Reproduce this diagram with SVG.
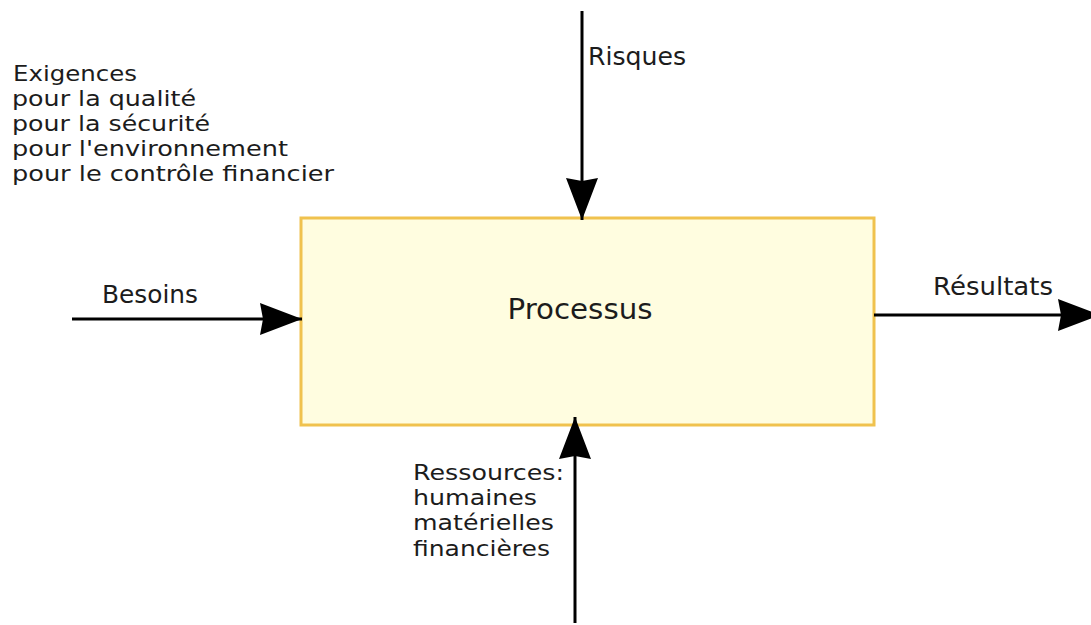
<svg xmlns="http://www.w3.org/2000/svg" width="1091" height="625" viewBox="0 0 1091 625">
<style>
text{font-family:"DejaVu Sans","Verdana",sans-serif;fill:#1c1c1c}
.lbl{font-size:24px}
.ml{font-size:21px}
.edge{stroke:#000;stroke-width:3;fill:none}
</style>
<defs>
<marker id="ah" markerUnits="userSpaceOnUse" markerWidth="44" markerHeight="34" refX="42" refY="16" orient="auto">
<path d="M0,0 L42,16 L0,32 L3,16 Z" fill="#000"/>
</marker>
</defs>
<rect width="1091" height="625" fill="#fff"/>
<g id="processus">
<rect x="301" y="218" width="573" height="207" fill="#fffde0" stroke="#f0c24e" stroke-width="3"/>
<text x="580" y="319" font-size="28" text-anchor="middle" textLength="145" lengthAdjust="spacingAndGlyphs">Processus</text>
</g>
<g id="connectors">
<line class="edge" x1="582" y1="11" x2="582" y2="220" marker-end="url(#ah)"/>
<line class="edge" x1="72" y1="319" x2="302" y2="319" marker-end="url(#ah)"/>
<line class="edge" x1="874" y1="315" x2="1100" y2="315" marker-end="url(#ah)"/>
<line class="edge" x1="575" y1="623" x2="575" y2="417" marker-end="url(#ah)"/>
</g>
<g id="exigences">
<text class="ml" x="13" y="81" textLength="124" lengthAdjust="spacingAndGlyphs">Exigences</text>
<text class="ml" x="12" y="106" textLength="184" lengthAdjust="spacingAndGlyphs">pour la qualité</text>
<text class="ml" x="12" y="131" textLength="198" lengthAdjust="spacingAndGlyphs">pour la sécurité</text>
<text class="ml" x="12" y="156" textLength="276" lengthAdjust="spacingAndGlyphs">pour l'environnement</text>
<text class="ml" x="12" y="181" textLength="322" lengthAdjust="spacingAndGlyphs">pour le contrôle financier</text>
</g>
<g id="risques">
<text class="lbl" x="588" y="65" textLength="98" lengthAdjust="spacingAndGlyphs">Risques</text>
</g>
<g id="besoins">
<text class="lbl" x="102" y="303" textLength="96" lengthAdjust="spacingAndGlyphs">Besoins</text>
</g>
<g id="resultats">
<text class="lbl" x="933" y="295" textLength="120" lengthAdjust="spacingAndGlyphs">Résultats</text>
</g>
<g id="ressources">
<text class="ml" x="413" y="480" textLength="151" lengthAdjust="spacingAndGlyphs">Ressources:</text>
<text class="ml" x="413" y="505" textLength="124" lengthAdjust="spacingAndGlyphs">humaines</text>
<text class="ml" x="413" y="530" textLength="141" lengthAdjust="spacingAndGlyphs">matérielles</text>
<text class="ml" x="413" y="556" textLength="137" lengthAdjust="spacingAndGlyphs">financières</text>
</g>
</svg>
